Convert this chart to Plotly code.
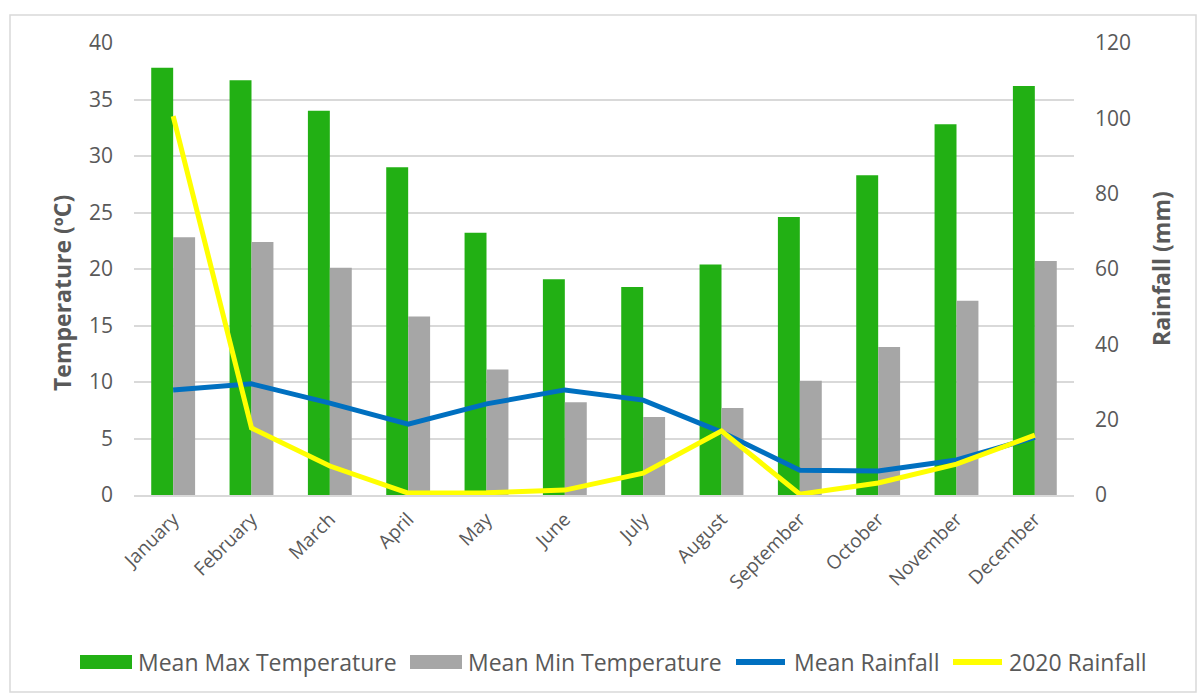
import plotly.graph_objects as go

months = ["January", "February", "March", "April", "May", "June", "July",
          "August", "September", "October", "November", "December"]
max_temp = [37.8, 36.7, 34.0, 29.0, 23.2, 19.1, 18.4, 20.4, 24.6, 28.3, 32.8, 36.2]
min_temp = [22.8, 22.4, 20.1, 15.8, 11.1, 8.2, 6.9, 7.7, 10.1, 13.1, 17.2, 20.7]
mean_rain = [27.9, 29.5, 24.4, 18.8, 24.2, 27.9, 25.2, 16.7, 6.6, 6.4, 9.3, 15.3]
rain_2020 = [100.6, 17.8, 7.7, 0.5, 0.6, 1.3, 5.8, 17.0, 0.2, 3.2, 8.2, 15.9]

series_names = ["Mean Max Temperature", "Mean Min Temperature", "Mean Rainfall", "2020 Rainfall"]
series_colors = ["#22B014", "#A6A6A6", "#0070C0", "#FFFF00"]
left_title = "Temperature (ºC)"
right_title = "Rainfall (mm)"

font_family = "Open Sans, sans-serif"
txt = "#595959"

fig = go.Figure()
fig.add_trace(go.Bar(x=months, y=max_temp, name=series_names[0],
                     marker=dict(color=series_colors[0], line=dict(width=0))))
fig.add_trace(go.Bar(x=months, y=min_temp, name=series_names[1],
                     marker=dict(color=series_colors[1], line=dict(width=0))))
fig.add_trace(go.Scatter(x=months, y=mean_rain, name=series_names[2], yaxis="y2",
                         mode="lines", line=dict(color=series_colors[2], width=5)))
fig.add_trace(go.Scatter(x=months, y=rain_2020, name=series_names[3], yaxis="y2",
                         mode="lines", line=dict(color=series_colors[3], width=5)))

# plot area in pixels: x 134..1074, y 43..495
PL, PR, PT, PB = 134, 1074, 43, 495
def px(x):
    return (x - PL) / (PR - PL)
def py(y):
    return (PB - y) / (PB - PT)

shapes = [dict(type="rect", xref="paper", yref="paper",
               x0=px(10), x1=px(1196), y0=py(692), y1=py(15),
               line=dict(color="#D9D9D9", width=1.5), fillcolor="rgba(0,0,0,0)",
               layer="below")]
annotations = []

# custom legend (symbol start, symbol end, text start)
legend_pos = [(80, 132, 136), (410, 462, 466), (733, 788, 792), (950, 1005, 1007)]
legend_kind = ["bar", "bar", "line", "line"]
ly = 662
for name, color, kind, (s0, s1, t0) in zip(series_names, series_colors, legend_kind, legend_pos):
    if kind == "bar":
        shapes.append(dict(type="rect", xref="paper", yref="paper",
                           x0=px(s0), x1=px(s1), y0=py(ly + 7), y1=py(ly - 7),
                           fillcolor=color, line=dict(width=0)))
    else:
        shapes.append(dict(type="line", xref="paper", yref="paper",
                           x0=px(s0 + 3), x1=px(s1 - 3), y0=py(ly), y1=py(ly),
                           line=dict(color=color, width=6)))
    annotations.append(dict(text=name, xref="paper", yref="paper", x=px(t0), y=py(ly),
                            xanchor="left", yanchor="middle", showarrow=False,
                            font=dict(size=23, color=txt, family=font_family)))

# axis titles
annotations.append(dict(text="<b>" + left_title + "</b>", xref="paper", yref="paper",
                        x=px(62), y=py(293), xanchor="center", yanchor="middle",
                        textangle=-90, showarrow=False,
                        font=dict(size=23, color=txt, family=font_family)))
annotations.append(dict(text="<b>" + right_title + "</b>", xref="paper", yref="paper",
                        x=px(1161), y=py(269), xanchor="center", yanchor="middle",
                        textangle=-90, showarrow=False,
                        font=dict(size=23, color=txt, family=font_family)))

fig.update_layout(
    width=1197, height=693,
    margin=dict(l=PL, r=1197 - PR, t=PT, b=693 - PB, autoexpand=False),
    paper_bgcolor="white", plot_bgcolor="white",
    font=dict(family=font_family, color=txt, size=20),
    barmode="group", bargap=0.44, bargroupgap=0,
    showlegend=False,
    xaxis=dict(tickangle=-45, showgrid=False, showline=True, linecolor="#D9D9D9",
               linewidth=1.5, ticks="", tickfont=dict(size=19, color=txt),
               ticklabelstandoff=4),
    yaxis=dict(range=[0, 40], dtick=5, showgrid=True, gridcolor="#D9D9D9", gridwidth=1.5,
               zeroline=False, ticks="", tickfont=dict(size=21, color=txt),
               ticklabelstandoff=20),
    yaxis2=dict(range=[0, 120], dtick=20, overlaying="y", side="right", showgrid=False,
                zeroline=False, ticks="", tickfont=dict(size=21, color=txt),
                ticklabelstandoff=20),
    shapes=shapes,
    annotations=annotations,
)

fig.write_html("out.html", config={"displayModeBar": False},
               post_script="document.body.style.margin='0';document.body.style.overflow='hidden';")
